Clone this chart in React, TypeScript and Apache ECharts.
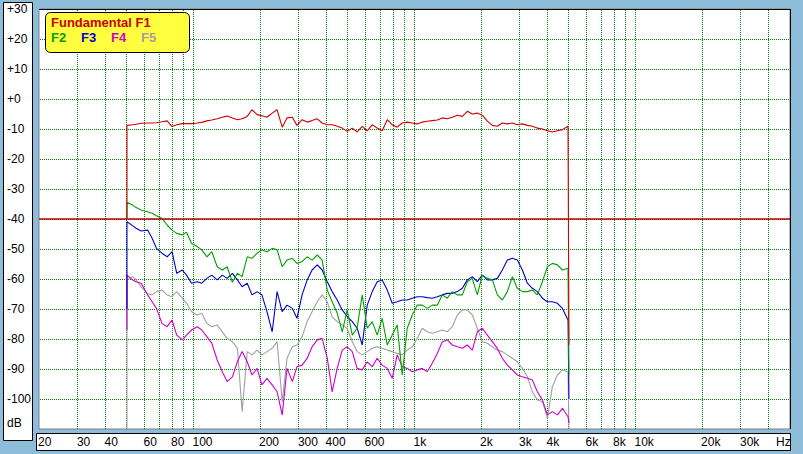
import React, { useEffect, useRef } from "react";
import * as echarts from "echarts";

// Frequencies (Hz) of the measured points
const freqs = [
  50, 53, 55, 58, 62, 65, 68, 72, 76, 80,
  84, 89, 93, 98, 104, 109, 115, 121, 128, 135,
  142, 150, 158, 166, 175, 184, 194, 204, 215, 227,
  239, 252, 265, 280, 294, 310, 327, 344, 363, 382,
  403, 424, 447, 471, 496, 523, 550, 580, 611, 644,
  678, 714, 753, 793, 835, 880, 927, 977, 1029, 1084,
  1142, 1203, 1268, 1336, 1407, 1483, 1562, 1646, 1734, 1826,
  1924, 2027, 2136, 2250, 2370, 2497, 2631, 2772, 2920, 3076,
  3241, 3414, 3597, 3790, 3993, 4206, 4431, 4669, 4950,
];

// dB levels
const f1 = [
  -8.8, -8.6, -8.4, -8.1, -8.0, -8.0, -7.9, -7.6, -7.3, -9.2,
  -8.6, -8.2, -8.2, -8.2, -8.0, -7.8, -7.3, -7.0, -6.6, -6.1,
  -5.7, -6.3, -6.9, -6.6, -5.8, -3.6, -5.2, -5.6, -6.1, -4.7,
  -3.6, -9.4, -6.3, -6.1, -8.8, -6.9, -7.7, -7.2, -6.6, -8.0,
  -8.6, -8.6, -9.1, -9.7, -10.8, -9.7, -11.0, -9.1, -10.6, -8.6,
  -9.7, -10.6, -6.9, -8.6, -9.4, -8.0, -7.7, -8.0, -8.3, -7.7,
  -7.4, -7.2, -7.0, -6.3, -6.6, -6.1, -5.4, -5.8, -4.1, -5.0,
  -4.7, -5.4, -7.4, -8.8, -9.1, -8.0, -8.3, -8.0, -8.6, -8.3,
  -8.8, -9.1, -9.7, -10.0, -10.6, -11.0, -10.6, -10.2, -9.1,
];
const f2 = [
  -34.4, -35.3, -36.2, -37.0, -37.6, -38.1, -38.9, -39.8, -42.0, -43.7,
  -44.8, -45.3, -44.4, -48.1, -49.2, -50.3, -52.6, -50.9, -55.9, -57.0,
  -55.9, -61.1, -58.1, -59.2, -52.6, -53.1, -51.4, -50.3, -50.9, -49.8,
  -50.3, -55.9, -53.7, -53.1, -54.8, -54.2, -52.6, -53.7, -52.0, -53.7,
  -63.7, -67.6, -71.4, -77.6, -70.3, -78.7, -76.4, -65.3, -76.4, -74.2,
  -78.7, -73.1, -82.0, -78.7, -75.3, -92.0, -76.4, -72.0, -68.7, -68.7,
  -69.8, -68.7, -68.7, -65.3, -66.4, -64.2, -65.3, -65.3, -60.9, -59.8,
  -65.3, -58.7, -59.8, -60.3, -65.3, -67.0, -64.2, -59.2, -63.1, -64.2,
  -64.2, -63.7, -65.3, -60.9, -55.9, -54.8, -55.3, -57.0, -56.4,
];
const f3 = [
  -40.9, -42.2, -43.1, -44.0, -43.7, -46.4, -49.8, -51.4, -52.6, -50.9,
  -58.1, -57.0, -58.7, -61.4, -60.9, -61.4, -59.8, -58.7, -60.3, -58.7,
  -59.8, -58.1, -60.3, -62.6, -61.4, -65.3, -64.2, -65.3, -70.9, -77.6,
  -64.2, -70.9, -68.7, -69.8, -73.1, -65.3, -60.3, -57.0, -55.3, -57.0,
  -60.9, -64.2, -67.0, -70.3, -72.5, -74.2, -76.4, -82.0, -68.7, -64.2,
  -60.9, -60.3, -63.7, -68.1, -67.6, -67.0, -67.0, -66.4, -65.9, -65.9,
  -66.2, -66.4, -65.9, -65.3, -64.8, -64.8, -64.2, -63.1, -60.3, -59.2,
  -60.9, -58.7, -60.3, -60.3, -59.8, -57.0, -53.7, -53.1, -53.7, -57.0,
  -61.4, -63.1, -64.2, -66.4, -67.6, -67.6, -68.1, -69.8, -73.7,
];
const f4 = [
  -58.7, -60.3, -60.9, -61.4, -65.3, -67.6, -69.8, -74.8, -75.9, -73.7,
  -78.7, -80.3, -78.7, -77.0, -75.9, -77.0, -79.2, -81.4, -87.0, -90.9,
  -94.2, -92.6, -87.6, -84.2, -87.6, -92.0, -89.8, -95.3, -93.1, -95.3,
  -97.6, -105.3, -89.8, -94.2, -89.2, -88.7, -86.4, -82.6, -80.3, -79.8,
  -86.4, -97.6, -89.8, -83.7, -82.6, -84.2, -89.8, -90.3, -87.6, -89.2,
  -86.4, -88.7, -89.8, -93.1, -85.3, -89.2, -89.8, -90.9, -90.3, -89.8,
  -90.9, -88.1, -84.8, -80.9, -80.3, -82.0, -82.6, -83.1, -82.0, -83.7,
  -77.6, -76.4, -78.7, -80.9, -83.1, -86.4, -88.7, -90.3, -92.0, -92.6,
  -93.1, -93.7, -97.6, -100.3, -105.3, -104.2, -105.3, -103.1, -105.9,
];
const f5 = [
  -60.3, -59.2, -60.3, -62.6, -64.8, -65.3, -64.2, -63.7, -65.3, -65.9,
  -64.2, -66.4, -68.1, -70.9, -72.0, -71.4, -74.8, -75.9, -75.3, -77.6,
  -79.8, -80.9, -83.1, -104.2, -84.2, -85.3, -83.7, -85.3, -84.2, -83.1,
  -80.9, -100.9, -86.4, -82.6, -82.0, -79.2, -74.2, -70.9, -67.6, -65.3,
  -67.6, -72.6, -74.2, -75.3, -76.5, -80.9, -84.2, -85.3, -84.2, -83.1,
  -82.6, -83.1, -83.7, -84.2, -84.8, -85.3, -83.7, -82.6, -79.8, -76.4,
  -77.6, -78.1, -77.6, -77.0, -77.6, -75.9, -72.0, -70.3, -70.3, -72.0,
  -76.4, -80.9, -81.4, -82.6, -83.7, -84.2, -85.3, -86.4, -87.6, -89.8,
  -92.6, -97.6, -100.3, -100.9, -106.4, -95.9, -92.0, -90.3, -90.9,
];

const seriesNames = ["Fundamental F1", "F2", "F3", "F4", "F5"];
const seriesValues = [f1, f2, f3, f4, f5];
const seriesColors = ["#cc0000", "#00a000", "#0000cc", "#cc00cc", "#a0a0a0"];
const startFreq = 50;
const endFreq = 5000;
const startLevels = [-40, -40, -70, -77, -110];
const endLevels = [-82, -92, -100, -108, -110];
const refLevel = -40;
const xMin = 20;
const xMax = 50000;
const yMin = -110;
const yMax = 30;
const yStep = 10;

const xTickValues = [20, 30, 40, 60, 80, 100, 200, 300, 400, 600, 1000, 2000, 3000, 4000, 6000, 8000, 10000, 20000, 30000];
const xTickLabels = ["20", "30", "40", "60", "80", "100", "200", "300", "400", "600", "1k", "2k", "3k", "4k", "6k", "8k", "10k", "20k", "30k"];
const gridFreqs = [
  30, 40, 50, 60, 70, 80, 90,
  100, 200, 300, 400, 500, 600, 700, 800, 900,
  1000, 2000, 3000, 4000, 5000, 6000, 7000, 8000, 9000,
  10000, 20000, 30000, 40000,
];

const FONT = '"Liberation Sans", Arial, sans-serif';
const GRID_GREEN = "#008000";

export default function App() {
  const ref = useRef<HTMLDivElement>(null);
  useEffect(() => {
    if (!ref.current) return;
    const chart = echarts.init(ref.current, undefined, { renderer: "svg" });

    const drawOrder = [4, 3, 2, 1, 0];
    const series: any[] = [];
    drawOrder.forEach((k) => {
      const vals = seriesValues[k];
      const data = [[startFreq, startLevels[k]], ...freqs.map((f, i) => [f, vals[i]]), [endFreq, endLevels[k]]];
      series.push({
        name: seriesNames[k],
        type: "line",
        data,
        showSymbol: false,
        symbol: "none",
        silent: true,
        z: 3,
        lineStyle: { color: seriesColors[k], width: 1.1 },
        itemStyle: { color: seriesColors[k] },
      });
    });
    series.push({
      name: "ref",
      type: "line",
      data: [[xMin, refLevel], [xMax, refLevel]],
      showSymbol: false,
      symbol: "none",
      silent: true,
      z: 4,
      lineStyle: { color: "#c00000", width: 1.5 },
    });

    chart.setOption({
      animation: false,
      backgroundColor: "#8dbdd8",
      grid: {
        left: 39,
        top: 9,
        width: 751,
        height: 420,
        show: true,
        backgroundColor: "#ffffff",
        borderColor: "#808080",
        borderWidth: 1,
      },
      xAxis: {
        type: "log",
        logBase: 10,
        min: xMin,
        max: xMax,
        axisLine: { show: false },
        axisTick: { show: false },
        axisLabel: { show: false },
        splitLine: { show: false },
      },
      yAxis: {
        type: "value",
        min: yMin,
        max: yMax,
        interval: yStep,
        axisLine: { show: false },
        axisTick: { show: false },
        splitLine: { show: false },
        axisLabel: {
          margin: 32,
          align: "left",
          fontFamily: FONT,
          fontSize: 12,
          color: "#000",
          padding: [4, 0, 0, 0],
          formatter: (v: number) => (v === yMin ? "" : v >= 0 ? "+" + v : String(v)),
        },
      },
      series,
    });

    const txt = (x: number, y: number, text: string, fill: string, font: string) => ({
      type: "text",
      x,
      y,
      z: 120,
      silent: true,
      style: { text, fill, font, align: "left", verticalAlign: "middle", textAlign: "left", textVerticalAlign: "middle" },
    });

    const graphics: any[] = [
      { type: "rect", z: -5, silent: true, shape: { x: 3.5, y: 2.5, width: 29, height: 438 }, style: { fill: "#ffffff", stroke: "#000000", lineWidth: 1 } },
      { type: "rect", z: -5, silent: true, shape: { x: 36.5, y: 433.5, width: 754, height: 17 }, style: { fill: "#ffffff", stroke: "#000000", lineWidth: 1 } },
    ];
    const top = chart.convertToPixel({ yAxisIndex: 0 }, yMax) as number;
    const bottom = chart.convertToPixel({ yAxisIndex: 0 }, yMin) as number;
    const left = chart.convertToPixel({ xAxisIndex: 0 }, xMin) as number;
    const right = chart.convertToPixel({ xAxisIndex: 0 }, xMax) as number;
    const gridStyle = { stroke: GRID_GREEN, lineWidth: 1, lineDash: [1, 1], lineDashOffset: 0.5 };
    gridFreqs.forEach((f) => {
      const px = Math.floor(chart.convertToPixel({ xAxisIndex: 0 }, f) as number);
      graphics.push({
        type: "line",
        z: 1,
        silent: true,
        shape: { x1: px + 0.5, y1: top, x2: px + 0.5, y2: bottom },
        style: { ...gridStyle },
      });
    });
    for (let v = yMin + yStep; v < yMax; v += yStep) {
      const py = Math.floor(chart.convertToPixel({ yAxisIndex: 0 }, v) as number);
      graphics.push({
        type: "line",
        z: 1,
        silent: true,
        shape: { x1: left, y1: py + 0.5, x2: right, y2: py + 0.5 },
        style: { ...gridStyle },
      });
    }
    graphics.push(
      { type: "line", z: 50, silent: true, shape: { x1: 39, y1: 9.5, x2: 790.5, y2: 9.5 }, style: { stroke: "#000000", lineWidth: 1 } },
      { type: "line", z: 50, silent: true, shape: { x1: 790.5, y1: 9, x2: 790.5, y2: 429 }, style: { stroke: "#000000", lineWidth: 1 } },
      { type: "rect", z: 100, silent: true, shape: { x: 45.5, y: 12.5, width: 144, height: 40, r: 5 }, style: { fill: "#ffff40", stroke: "#000000", lineWidth: 1 } },
      txt(51, 22, seriesNames[0], seriesColors[0], `bold 13px ${FONT}`),
      txt(51, 37, seriesNames[1], seriesColors[1], `bold 13px ${FONT}`),
      txt(81, 37, seriesNames[2], seriesColors[2], `bold 13px ${FONT}`),
      txt(111, 37, seriesNames[3], seriesColors[3], `bold 13px ${FONT}`),
      txt(141, 37, seriesNames[4], seriesColors[4], `bold 13px ${FONT}`),
      txt(7, 423, "dB", "#000000", `12px ${FONT}`),
      txt(776, 442, "Hz", "#000000", `12px ${FONT}`),
    );
    xTickValues.forEach((f, i) => {
      const px = chart.convertToPixel({ xAxisIndex: 0 }, f) as number;
      graphics.push(txt(px - 1, 442, xTickLabels[i], "#000000", `12px ${FONT}`));
    });
    chart.setOption({ graphic: graphics });

    return () => chart.dispose();
  }, []);

  return (
    <div
      ref={ref}
      style={{ position: "fixed", left: 0, top: 0, width: 803, height: 454 }}
    />
  );
}
